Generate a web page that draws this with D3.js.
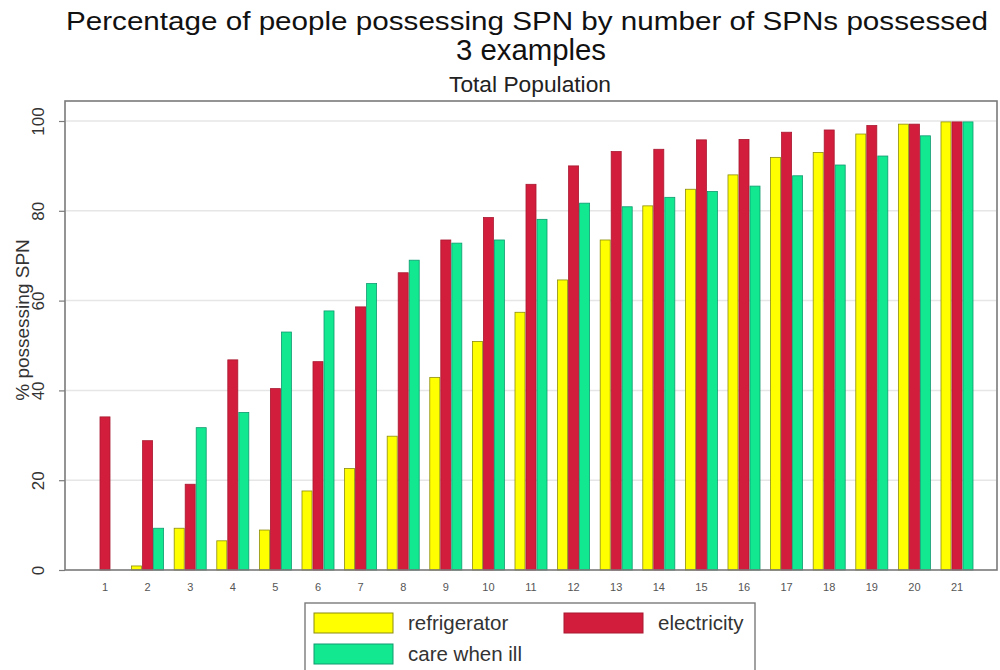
<!DOCTYPE html>
<html><head><meta charset="utf-8">
<script src="https://cdn.jsdelivr.net/npm/d3@7"></script>
<style>body{margin:0;background:#fff}svg{display:block;font-family:"Liberation Sans",Arial,sans-serif}</style>
</head><body><svg id="c" width="1000" height="670"></svg>
<script>
const categories = ["1","2","3","4","5","6","7","8","9","10","11","12","13","14","15","16","17","18","19","20","21"];
const seriesNames = ["refrigerator","electricity","care when ill"];
const refrigerator = [0,0.9,9.3,6.5,8.9,17.6,22.6,29.8,42.9,50.9,57.4,64.6,73.5,81.1,84.8,88.0,91.9,93.0,97.1,99.3,99.8];
const electricity  = [34.1,28.8,19.1,46.8,40.4,46.4,58.6,66.2,73.5,78.5,85.9,90.0,93.2,93.7,95.8,95.9,97.5,98.0,99.0,99.3,99.8];
const careWhenIll  = [0,9.3,31.7,35.1,53.0,57.7,63.8,69.0,72.8,73.5,78.1,81.7,80.9,83.0,84.3,85.5,87.8,90.2,92.2,96.7,99.8];
const yTicks = [0,20,40,60,80,100];
const colors = ["#ffff00","#d21e3c","#12e890"];
const strokes = ["#8c8c10","#a81830","#0f9a70"];

const svg = d3.select("#c");
const L=65, R=997, T=101, B=570;
const y = d3.scaleLinear().domain([0,100]).range([B,121]);
const x = d3.scaleBand().domain(categories).range([83.7,978.3]).paddingInner(0.225).paddingOuter(0.1125);
const xs = d3.scaleBand().domain(seriesNames).range([0,x.bandwidth()]);

svg.append("rect").attr("x",L).attr("y",T).attr("width",R-L).attr("height",B-T).attr("fill","#fff");
svg.append("g").selectAll("line").data(yTicks.filter(d=>d>0)).join("line")
  .attr("x1",L+1).attr("x2",R-1).attr("y1",d=>y(d)).attr("y2",d=>y(d))
  .attr("stroke","#e6e6e6").attr("stroke-width",1.5);

const table = categories.map((c,i)=>({c, vals:[refrigerator[i],electricity[i],careWhenIll[i]]}));
const g = svg.append("g");
table.forEach(row=>{
  row.vals.forEach((v,j)=>{
    if(v<=0) return;
    g.append("rect")
      .attr("x",x(row.c)+xs(seriesNames[j])+0.5)
      .attr("y",y(v))
      .attr("width",xs.bandwidth()-1)
      .attr("height",B-y(v))
      .attr("fill",colors[j]).attr("stroke",strokes[j]).attr("stroke-width",0.8);
  });
});

svg.append("rect").attr("x",L).attr("y",T).attr("width",R-L).attr("height",B-T)
  .attr("fill","none").attr("stroke","#7a7a7a").attr("stroke-width",1.6);

const ya = svg.append("g").attr("transform",`translate(${L},0)`)
  .call(d3.axisLeft(y).tickValues(yTicks).tickSize(6).tickFormat(d3.format("d")));
ya.select(".domain").remove();
ya.selectAll(".tick line").attr("stroke","#7a7a7a").attr("stroke-width",1.2);
ya.selectAll(".tick text").attr("transform","rotate(-90)").attr("x",0).attr("y",-21)
  .attr("dy",0).attr("text-anchor","middle").attr("font-size",17).attr("fill","#333")
  .style("font-family","Liberation Sans, Arial, sans-serif");

const xa = svg.append("g").attr("transform",`translate(0,${B})`)
  .call(d3.axisBottom(x).tickSize(0).tickPadding(13));
xa.select(".domain").remove();
xa.selectAll(".tick text").attr("font-size",11).attr("fill","#555")
  .style("font-family","Liberation Sans Narrow, Liberation Sans, Arial, sans-serif");

svg.append("text").attr("transform","translate(29,320) rotate(-90)")
  .attr("text-anchor","middle").attr("font-size",19).attr("fill","#333").text("% possessing SPN");

const cx = 527;
svg.append("text").attr("x",cx).attr("y",30).attr("text-anchor","middle").attr("font-size",25)
  .attr("fill","#111").attr("textLength",922).attr("lengthAdjust","spacingAndGlyphs")
  .text("Percentage of people possessing SPN by number of SPNs possessed");
svg.append("text").attr("x",531).attr("y",60).attr("text-anchor","middle").attr("font-size",29)
  .attr("fill","#111").attr("textLength",150).attr("lengthAdjust","spacingAndGlyphs").text("3 examples");
svg.append("text").attr("x",530).attr("y",92).attr("text-anchor","middle").attr("font-size",22)
  .attr("fill","#222").attr("textLength",162).attr("lengthAdjust","spacingAndGlyphs").text("Total Population");

const lg = svg.append("g");
lg.append("rect").attr("x",305).attr("y",603).attr("width",450).attr("height",80)
  .attr("fill","#fff").attr("stroke","#7a7a7a").attr("stroke-width",1.4);
const legPos = [[314,613],[564,613],[314,644]];
seriesNames.forEach((n,j)=>{
  const [lx,ly]=legPos[j];
  lg.append("rect").attr("x",lx).attr("y",ly).attr("width",79).attr("height",20)
    .attr("fill",colors[j]).attr("stroke",strokes[j]).attr("stroke-width",1);
  lg.append("text").attr("x",lx+94).attr("y",ly+17).attr("font-size",20.5).attr("fill","#333").text(n);
});
</script></body></html>
